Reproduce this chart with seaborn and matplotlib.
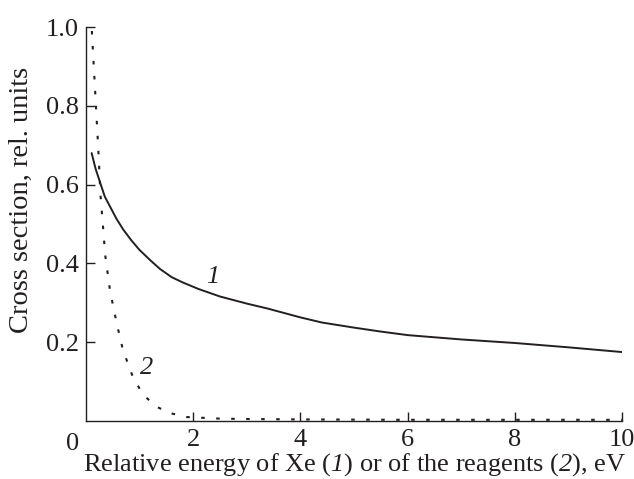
import matplotlib
matplotlib.use("Agg")
import matplotlib.pyplot as plt
import seaborn as sns

# curve 1: Xe, solid
energy_xe = [0.106, 0.18, 0.26, 0.35, 0.45, 0.57, 0.70, 0.85, 1.0, 1.2, 1.38, 1.6, 1.8, 2.1, 2.5,
             3.0, 3.4, 4.0, 4.4, 5.0, 5.5, 6.0, 7.0, 8.0, 9.0, 10.0]
sigma_xe = [0.68, 0.64, 0.607, 0.57, 0.544, 0.513, 0.485, 0.458, 0.434, 0.408, 0.386, 0.365, 0.352,
            0.335, 0.316, 0.298, 0.285, 0.263, 0.250, 0.237, 0.227, 0.218, 0.207, 0.198, 0.187, 0.175]

# curve 2: reagents, dotted
energy_rg = [0.11, 0.17, 0.23, 0.27, 0.32, 0.36, 0.45, 0.57, 0.69, 0.88, 1.07, 1.32, 1.57, 1.88,
             2.5, 3.0, 4.0, 6.0, 8.0, 10.0]
sigma_rg = [0.99, 0.84, 0.69, 0.575, 0.49, 0.42, 0.33, 0.25, 0.18, 0.11, 0.066, 0.036, 0.02, 0.01,
            0.006, 0.005, 0.004, 0.003, 0.003, 0.003]

x_ticks = [2, 4, 6, 8, 10]
y_ticks = [0.2, 0.4, 0.6, 0.8, 1.0]

sns.set_style("ticks")
plt.rcParams['font.family'] = ['Liberation Serif', 'DejaVu Serif']
plt.rcParams['mathtext.fontset'] = 'custom'
plt.rcParams['mathtext.rm'] = 'Liberation Serif'
# italic digits: mathtext forces digits to roman under \mathit, so borrow the sf slot
plt.rcParams['mathtext.sf'] = 'Liberation Serif:italic'

FS = 19
ink = '#231f20'

fig = plt.figure(figsize=(6.34, 4.79), dpi=100)
ax = fig.add_axes([0.1356, 0.1211, 0.981 - 0.1356, 0.9436 - 0.1211])

sns.lineplot(x=energy_xe, y=sigma_xe, ax=ax, color=ink, linewidth=1.4)
sns.lineplot(x=energy_rg, y=sigma_rg, ax=ax, color=ink, linewidth=1.5,
             linestyle=(0, (1.7, 5.5)))

ax.set_xlim(0, 10)
ax.set_ylim(0, 1.0)
ax.set_xticks(x_ticks)
ax.set_yticks(y_ticks)
ax.set_xticklabels([str(t) for t in x_ticks])
ax.set_yticklabels([f"{t:.1f}" for t in y_ticks])
ax.tick_params(direction='in', length=6.5, width=1, labelsize=FS, colors=ink)
ax.tick_params(axis='x', pad=6)
ax.tick_params(axis='y', pad=5)
sns.despine(ax=ax)
for s in ['left', 'bottom']:
    ax.spines[s].set_linewidth(1.0)
    ax.spines[s].set_color(ink)

# origin label
ax.annotate("0", xy=(0, 0), xytext=(-10, -8.5), textcoords='offset points',
            ha='center', va='top', fontsize=FS, color=ink)

ax.text(2.37, 0.365, "1", fontstyle='italic', fontsize=FS, ha='center', va='center', color=ink)
ax.text(1.13, 0.134, "2", fontstyle='italic', fontsize=FS, ha='center', va='center', color=ink)

ax.set_xlabel(r"Relative energy of Xe ($\mathsf{1}$) or of the reagents ($\mathsf{2}$), eV",
              fontsize=FS, labelpad=0, color=ink)
ax.set_ylabel("Cross section, rel. units", fontsize=20.5, color=ink)
ax.yaxis.set_label_coords(-0.098, 0.561)

fig.savefig("out.png", dpi=100)
